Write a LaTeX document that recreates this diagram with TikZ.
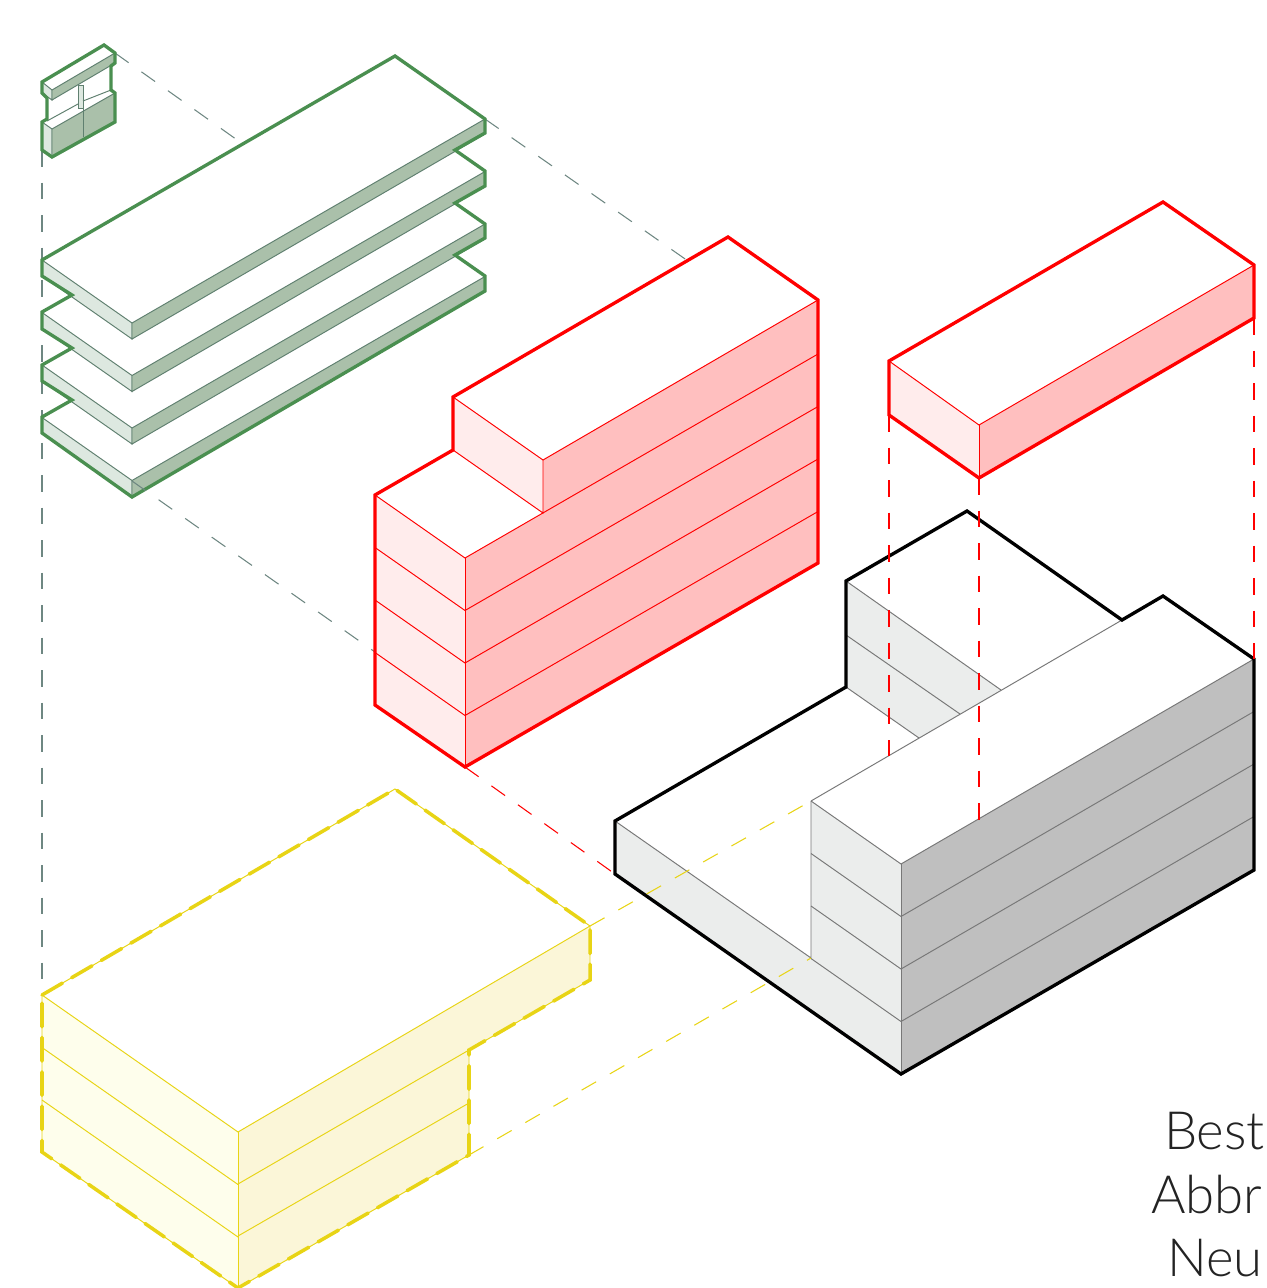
\documentclass[tikz,border=0pt]{standalone}
\usepackage{fontspec}
\setmainfont{Lato}[UprightFont=* Light]
\usepackage{tikz}
\definecolor{isoGreen}{RGB}{74,143,80}
\definecolor{isoGreenEdge}{RGB}{96,128,112}
\definecolor{isoGreenSide}{RGB}{221,232,224}
\definecolor{isoGreenFace}{RGB}{170,192,170}
\definecolor{isoRed}{RGB}{255,0,0}
\definecolor{isoRedSide}{RGB}{255,236,236}
\definecolor{isoRedFace}{RGB}{255,191,191}
\definecolor{isoYellow}{RGB}{232,212,21}
\definecolor{isoYellowSide}{RGB}{254,254,236}
\definecolor{isoYellowFace}{RGB}{251,246,216}
\definecolor{isoGraySide}{RGB}{235,237,236}
\definecolor{isoGrayFace}{RGB}{191,191,191}
\definecolor{isoEdge}{RGB}{120,120,120}
\definecolor{isoGuide}{RGB}{110,135,130}
\definecolor{isoInk}{RGB}{35,35,35}

\begin{document}
\begin{tikzpicture}[x=.02cm,y=-.02cm]
\tikzset{
outline/.style={line width=1.9pt,line join=miter,miter limit=4},
thin edge/.style={line width=.55pt},
guide/.style={line width=.6pt,dash pattern=on 9.5pt off 9pt},
red guide/.style={color=isoRed,line width=.75pt,dash pattern=on 9.5pt off 9pt},
yellow dash/.style={draw=isoYellow,line width=2pt,dash pattern=on 13.5pt off 6pt,line cap=round},
legend/.style={font=\fontsize{30}{30}\selectfont,text=isoInk,anchor=base west,inner sep=0pt,outer sep=0pt}
}
\useasboundingbox (0,0) rectangle (1267,1288);
% guides behind the parts
\coordinate (modA) at (42,150);
\coordinate (yelA) at (42,995);
\draw[guide,draw=isoGuide] (modA) -- (yelA);
\draw[guide,draw=isoGuide] (115,53) -- (240,142);
\draw[guide,draw=isoGuide] (485,119) -- (688,261);
% slabs
\foreach \k in {3,2,1,0} {
\begin{scope}[shift={(0,52.5*\k)}]
\fill[white] (42,260) -- (395,56) -- (485,119) -- (132,323) -- cycle;
\draw[thin edge,draw=isoGreenEdge,fill=isoGreenSide] (42,260) -- (132,323) -- (132,339) -- (42,276) -- cycle;
\draw[thin edge,draw=isoGreenEdge,fill=isoGreenFace] (132,323) -- (485,119) -- (485,134) -- (132,339) -- cycle;
\end{scope}
}
\draw[outline,draw=isoGreen] (42,260) -- (395,56) -- (485,119) -- (485,133) -- (455,150) -- (485,171) -- (485,186) -- (455,203) -- (485,224) -- (485,238) -- (455,255) -- (485,276) -- (485,291) -- (132,497) -- (42,433) -- (42,417) -- (72,400) -- (42,381) -- (42,365) -- (72,348) -- (42,329) -- (42,312) -- (72,295) -- (42,276) -- cycle;
\draw[guide,draw=isoGuide] (132,481) -- (375,652);
% window module
\fill[white] (42,82) -- (104,45) -- (115,53) -- (115,63) -- (111,66) -- (111,90) -- (115,93) -- (115,122) -- (52,157) -- (42,150) -- (42,122) -- (47,119) -- (47,98) -- (42,93) -- cycle;
\draw[thin edge,draw=isoGreenEdge,fill=isoGreenSide] (78,85) rectangle (83,108);
\draw[thin edge,draw=isoGreenEdge,fill=isoGreenSide] (42,82) -- (52,90) -- (52,100) -- (42,93) -- cycle;
\draw[thin edge,draw=isoGreenEdge,fill=isoGreenFace] (52,90) -- (115,53) -- (115,63) -- (52,100) -- cycle;
\draw[thin edge,draw=isoGreenEdge,fill=isoGreenSide] (42,122) -- (52,129) -- (52,157) -- (42,150) -- cycle;
\draw[thin edge,draw=isoGreenEdge,fill=isoGreenFace] (52,129) -- (115,93) -- (115,122) -- (52,157) -- cycle;
\draw[thin edge,draw=isoGreenEdge] (47,121) -- (78,104) (83,101) -- (111,90);
\draw[thin edge,draw=isoGreenEdge] (83,108) -- (83,137);
\draw[outline,draw=isoGreen] (42,82) -- (104,45) -- (115,53) -- (115,63) -- (111,66) -- (111,90) -- (115,93) -- (115,122) -- (52,157) -- (42,150) -- (42,122) -- (47,119) -- (47,98) -- (42,93) -- cycle;
% red block
\fill[white] (453,397) -- (728,237) -- (818,300) -- (543,460) -- cycle;
\fill[white] (375,495) -- (453,450) -- (543,513) -- (465,558) -- cycle;
\fill[isoRedSide] (453,397) -- (543,460) -- (543,513) -- (453,450) -- cycle;
\fill[isoRedSide] (375,495) -- (465,558) -- (465,767) -- (375,705) -- cycle;
\fill[isoRedFace] (465,558) -- (543,513) -- (543,460) -- (818,300) -- (818,563) -- (465,767) -- cycle;
\foreach \d in {0,52.5,105,157.5}
  \draw[thin edge,draw=isoRed] (375,495+\d) -- (465,558+\d) -- (818,354+\d);
\draw[thin edge,draw=isoRed] (453,397) -- (543,460) -- (818,300);
\draw[thin edge,draw=isoRed] (453,450) -- (543,513) -- (543,460);
\draw[thin edge,draw=isoRed] (465,558) -- (465,767);
\draw[outline,draw=isoRed] (728,237) -- (818,300) -- (818,563) -- (465,767) -- (375,705) -- (375,495) -- (453,450) -- (453,397) -- cycle;
% red top part
\fill[isoRedSide] (889,361) -- (979,425) -- (979,478) -- (889,415) -- cycle;
\fill[isoRedFace] (979,425) -- (1254,265) -- (1254,318) -- (979,478) -- cycle;
\draw[thin edge,draw=isoRed] (889,361) -- (979,425) -- (1254,265);
\draw[thin edge,draw=isoRed] (979,425) -- (979,478);
\draw[outline,draw=isoRed] (1163,202) -- (1254,265) -- (1254,318) -- (979,478) -- (889,415) -- (889,361) -- cycle;
% black building
\fill[white] (967,511) -- (1122,620) -- (1163,596) -- (1254,659) -- (1254,870) -- (901,1074) -- (615,874) -- (615,821) -- (846,687) -- (846,581) -- cycle;
\fill[isoGraySide] (846,581) -- (1001,690) -- (919,738) -- (846,687) -- cycle;
\fill[isoGraySide] (811,801) -- (901,864) -- (901,1074) -- (615,874) -- (615,821) -- (811,958) -- cycle;
\fill[isoGrayFace] (901,864) -- (1254,659) -- (1254,870) -- (901,1074) -- cycle;
\draw[thin edge,draw=isoEdge] (846,581) -- (1001,690);
\draw[thin edge,draw=isoEdge] (846,635) -- (960,714);
\draw[thin edge,draw=isoEdge] (846,687) -- (919,738);
\draw[thin edge,draw=isoEdge] (811,801) -- (1122,620);
\draw[thin edge,draw=isoEdge] (615,821) -- (811,958) -- (811,801);
\foreach \d in {0,52.5,105,157.5}
  \draw[thin edge,draw=isoEdge] (811,801+\d) -- (901,864+\d) -- (1254,659+\d);
\draw[thin edge,draw=isoEdge] (901,864) -- (901,1074);
\draw[outline,draw=black] (967,511) -- (1122,620) -- (1163,596) -- (1254,659) -- (1254,870) -- (901,1074) -- (615,874) -- (615,821) -- (846,687) -- (846,581) -- cycle;
% red guides
\draw[red guide] (889,415) -- (889,756);
\draw[red guide] (979,478) -- (979,820);
\draw[red guide] (1254,318) -- (1254,659);
\draw[guide,draw=isoRed] (465,767) -- (615,874);
% yellow volume
\fill[white] (42,995) -- (395,789) -- (590,926) -- (238,1132) -- cycle;
\fill[isoYellowSide] (42,995) -- (238,1132) -- (238,1288) -- (42,1152) -- cycle;
\fill[isoYellowFace] (238,1132) -- (590,926) -- (590,980) -- (469,1050) -- (469,1155) -- (238,1288) -- cycle;
\foreach \d in {0,52.5,105}
  \draw[thin edge,draw=isoYellow] (42,995+\d) -- (238,1132+\d);
\draw[thin edge,draw=isoYellow] (238,1132) -- (590,926);
\draw[thin edge,draw=isoYellow] (238,1184) -- (469,1050);
\draw[thin edge,draw=isoYellow] (238,1236) -- (469,1103);
\draw[thin edge,draw=isoYellow] (238,1132) -- (238,1288);
\draw[thin edge,draw=isoYellow] (42,995) -- (395,789) -- (590,926) -- (590,980) -- (469,1050) -- (469,1155) -- (238,1288) -- (42,1152) -- cycle;
\draw[yellow dash] (42,995) -- (395,789) -- (590,926) -- (590,980) -- (469,1050) -- (469,1155) -- (238,1288) -- (42,1152) -- cycle;
\draw[guide,draw=isoYellow] (590,926) -- (811,801);
\draw[guide,draw=isoYellow] (469,1155) -- (811,958);
% legend
\node[legend] (best) at (1164,1149) {Best};
\node[legend] (abbr) at (1151,1213) {Abbr};
\node[legend] (neu) at (1167,1276) {Neu};
\end{tikzpicture}
\end{document}
